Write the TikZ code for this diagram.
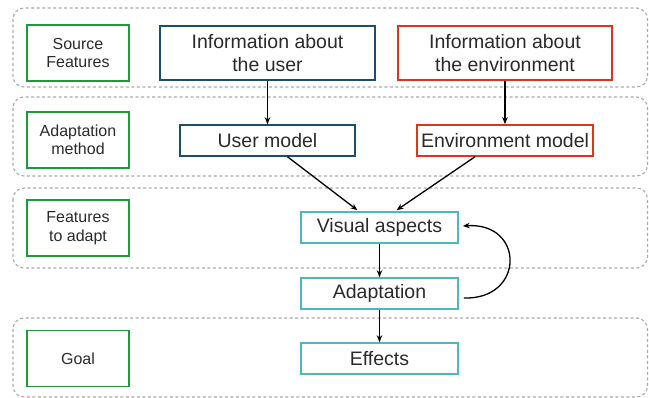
\documentclass[tikz,border=0pt]{standalone}
\usepackage{fontspec}
\setmainfont{Liberation Sans}
\usetikzlibrary{arrows.meta,calc}
\definecolor{ublue}{HTML}{1F4E6B}
\definecolor{ered}{HTML}{D9381E}
\definecolor{teal2}{HTML}{4BBAC0}
\definecolor{lgreen}{HTML}{1E9A3A}
\definecolor{dgrey}{HTML}{AAAAAA}
\definecolor{txt}{HTML}{2A2A2A}
\begin{document}
\begin{tikzpicture}[x=1pt,y=-1pt,
  group/.style={draw=dgrey, line width=1.1pt, dash pattern=on 3pt off 2.5pt, rounded corners=11pt},
  labelbox/.style={draw=lgreen, line width=1.6pt, minimum width=102pt, minimum height=56pt, inner sep=0pt, align=center, text=txt, font=\fontsize{16}{18.5}\selectfont},
  bigbox/.style={line width=1.5pt, inner sep=0pt, align=center, text=txt, font=\fontsize{19.5}{23}\selectfont},
  userbox/.style={bigbox, draw=ublue},
  envbox/.style={bigbox, draw=ered},
  visbox/.style={bigbox, draw=teal2, minimum width=157pt, minimum height=31pt},
  arr/.style={line width=1.3pt, -{Stealth[length=7pt,width=5.5pt]}}
]
\useasboundingbox (0,0) rectangle (649,398);
% groups
\draw[group] (13,8) rectangle (647.5,87);
\draw[group] (13,97) rectangle (647.5,176);
\draw[group] (13,188) rectangle (647.5,268);
\draw[group] (13,318) rectangle (647.5,397);
% green labels
\node[labelbox] (l1) at (78,53) {Source\\Features};
\node[labelbox] (l2) at (78,140) {Adaptation\\method};
\node[labelbox] (l3) at (78,228) {Features\\to adapt};
\node[labelbox] (l4) at (78,358.5) {Goal};
% main boxes
\node[userbox, minimum width=215pt, minimum height=54pt] (uinfo) at (267.5,53) {Information about\\the user};
\node[envbox, minimum width=214pt, minimum height=54pt] (einfo) at (505,53) {Information about\\the environment};
\node[userbox, minimum width=175pt, minimum height=31pt] (umodel) at (267.5,140.5) {User model};
\node[envbox, minimum width=176pt, minimum height=31pt] (emodel) at (505,140.5) {Environment model};
\node[visbox] (vis) at (379.5,227.5) {Visual aspects};
\node[visbox] (adapt) at (379.5,293.5) {Adaptation};
\node[visbox] (eff) at (379.5,358.5) {Effects};
% connectors
\draw[arr] (uinfo) -- (umodel);
\draw[arr] (einfo) -- (emodel);
\draw[arr] ($(umodel.south)+(20,0)$) -- ($(vis.north)+(-22,-1)$);
\draw[arr] ($(emodel.south)+(-30,0)$) -- ($(vis.north)+(17,-1)$);
\draw[arr] (vis) -- (adapt);
\draw[arr] (adapt) -- (eff);
\coordinate (cs) at ($(adapt.east)+(5,4.5)$);
\coordinate (ce) at ($(vis.east)+(4,-1.5)$);
\draw[arr] (cs) .. controls (525,300) and (525,222) .. (ce);
\end{tikzpicture}
\end{document}
